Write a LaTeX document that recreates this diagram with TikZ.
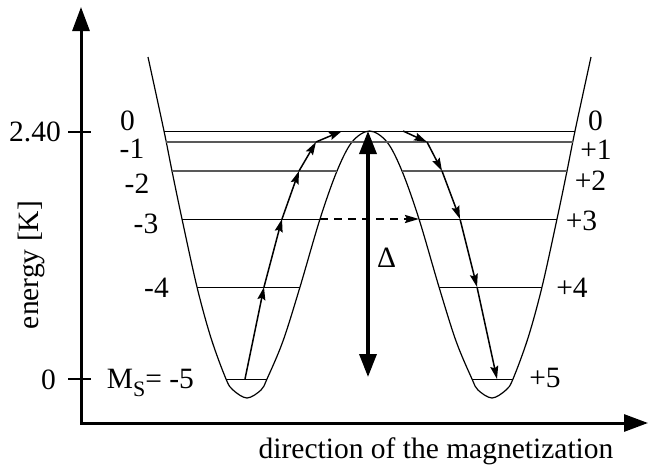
\documentclass[tikz,border=0pt]{standalone}
\usepackage{fontspec}
\setmainfont{Liberation Serif}
\usetikzlibrary{arrows.meta}
\begin{document}
\begin{tikzpicture}[x=1pt,y=-1pt,
  lbl/.style={font=\fontsize{29.5}{31}\selectfont, inner sep=0pt, anchor=base},
  axisline/.style={line width=3pt, line join=miter,
    {Triangle[length=24pt,width=17pt]}-{Triangle[length=24pt,width=17pt]}},
  tick/.style={line width=1.5pt},
  curve/.style={line width=1.2pt},
  lvl/.style={line width=1pt},
  lvlg/.style={line width=1.3pt, black!65},
  hop/.style={line width=1.5pt, -{Stealth[length=13pt,width=8pt,inset=2pt]}},
  tunnel/.style={line width=2.2pt, dash pattern=on 8pt off 6pt, -{Stealth[length=14pt,width=8pt,inset=2pt]}},
  barrier/.style={line width=3.5pt, {Triangle[length=23pt,width=17pt]}-{Triangle[length=23pt,width=17pt]}}
]
\useasboundingbox (0,0) rectangle (649,474);

% axes
\coordinate (O) at (81,423);
\coordinate (Ytop) at (81,7);
\coordinate (Xend) at (648,423);
\draw[axisline] (Ytop) -- (O) -- (Xend);
\coordinate (t1a) at (68,132); \coordinate (t1b) at (91,132);
\coordinate (t0a) at (68,379); \coordinate (t0b) at (91,379);
\draw[tick] (t1a) -- (t1b);
\draw[tick] (t0a) -- (t0b);

% double-well curve
\draw[curve] plot[smooth, tension=0.55] coordinates {
 (148,57) (164,131) (172,171) (182,219) (197,287) (211,338) (226,379) (233,390)
 (247,398) (261,390) (267,379) (283,341) (300,287) (320,219) (337,171) (352,142)
 (369.5,131) (387,142) (402,171) (419,219) (439,287) (456,341) (472,379) (478,390)
 (492,398) (506,390) (513,379) (528,338) (542,287) (557,219) (567,171) (575,131) (591,57)};

% levels
\coordinate (L0a) at (164,131); \coordinate (L0b) at (575,131);
\coordinate (L1a) at (166,142); \coordinate (L1b) at (573,142);
\coordinate (L2a) at (172,171); \coordinate (L2b) at (337,171);
\coordinate (R2a) at (402,171); \coordinate (R2b) at (567,171);
\coordinate (L3a) at (182,219); \coordinate (L3b) at (320,219);
\coordinate (R3a) at (419,219); \coordinate (R3b) at (557,219);
\coordinate (L4a) at (197,287); \coordinate (L4b) at (300,287);
\coordinate (R4a) at (439,287); \coordinate (R4b) at (542,287);
\coordinate (L5a) at (226,379); \coordinate (L5b) at (267,379);
\coordinate (R5a) at (472,379); \coordinate (R5b) at (513,379);
\draw[lvl] (L0a) -- (L0b);
\draw[lvlg] (L1a) -- (L1b);
\draw[lvlg] (L2a) -- (L2b);
\draw[lvlg] (R2a) -- (R2b);
\draw[lvl] (L3a) -- (L3b);
\draw[lvl] (R3a) -- (R3b);
\draw[lvl] (L4a) -- (L4b);
\draw[lvl] (R4a) -- (R4b);
\draw[lvl] (L5a) -- (L5b);
\draw[lvl] (R5a) -- (R5b);

% thermal path
\coordinate (A5) at (245,379); \coordinate (A4) at (264,287);
\coordinate (A3) at (282,219); \coordinate (A2) at (299,171);
\coordinate (A1) at (316,142); \coordinate (A0) at (342,131);
\coordinate (B0) at (403,131); \coordinate (B1) at (427,142);
\coordinate (B2) at (442,171); \coordinate (B3) at (460,219);
\coordinate (B4) at (477,287); \coordinate (B5) at (497,379);
\draw[hop] (A5) -- (A4);
\draw[hop] (A4) -- (A3);
\draw[hop] (A3) -- (A2);
\draw[hop] (A2) -- (A1);
\draw[hop] (A1) -- (A0);
\draw[hop] (B0) -- (B1);
\draw[hop] (B1) -- (B2);
\draw[hop] (B2) -- (B3);
\draw[hop] (B3) -- (B4);
\draw[hop] (B4) -- (B5);

% tunnelling
\draw[tunnel] (L3b) -- (R3a);

% barrier
\coordinate (Dtop) at (368,131); \coordinate (Dbot) at (368,377);
\draw[barrier] (Dtop) -- (Dbot);
\node[lbl] (delta) at (386.5,267) {Δ};

% labels
\node[lbl] (l0) at (127.5,130) {0};
\node[lbl] (l1) at (132,158) {-1};
\node[lbl] (l2) at (137,193) {-2};
\node[lbl] (l3) at (146,233) {-3};
\node[lbl] (l4) at (156.5,297) {-4};
\node[lbl] (l5) at (150.5,388) {M\raisebox{-0.3em}{\fontsize{22}{23}\selectfont S}= -5};
\node[lbl] (r0) at (595.5,130) {0};
\node[lbl] (r1) at (596,159) {+1};
\node[lbl] (r2) at (590.5,190) {+2};
\node[lbl] (r3) at (581.5,230) {+3};
\node[lbl] (r4) at (572,297) {+4};
\node[lbl] (r5) at (545,387) {+5};
\node[lbl] (e240) at (35,141) {2.40};
\node[lbl] (e0) at (48.5,389) {0};
\node[lbl, rotate=90] (ylab) at (38,265) {energy [K]};
\node[lbl] (xlab) at (436,458) {direction of the magnetization};
\end{tikzpicture}
\end{document}
